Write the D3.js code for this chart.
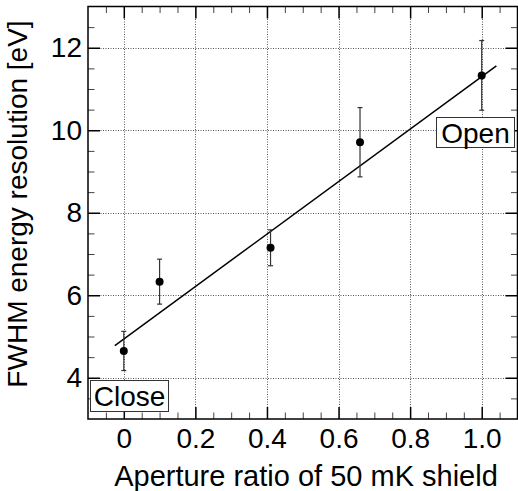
<!DOCTYPE html>
<html>
<head>
<meta charset="utf-8">
<script src="https://cdn.jsdelivr.net/npm/d3@7"></script>
<style>
html,body{margin:0;padding:0;background:#fff;}
svg{display:block;}
text{font-family:"Liberation Sans",Arial,Helvetica,sans-serif;fill:#000;}
</style>
</head>
<body>
<svg id="chart" width="518" height="491"></svg>
<script>
// ---- data ----
const apertureRatio = [0, 0.1, 0.41, 0.66, 1.0];
const fwhm = [4.65, 6.33, 7.15, 9.71, 11.33];
const fwhmErr = [0.475, 0.545, 0.435, 0.84, 0.845];
const fitX = [-0.025, 1.041];
const fitY = [4.78, 11.56];
const xTicks = [0, 0.2, 0.4, 0.6, 0.8, 1.0];
const xTickLabels = ["0", "0.2", "0.4", "0.6", "0.8", "1.0"];
const yTicks = [4, 6, 8, 10, 12];
const xTitle = "Aperture ratio of 50 mK shield";
const yTitle = "FWHM energy resolution [eV]";
const annotations = [
  {text: "Close", pos: "bottomleft"},
  {text: "Open", pos: "right"}
];

// ---- layout ----
const FS = 28;
const L = 88, R = 517.5, T = 6.5, B = 419;
const svg = d3.select("#chart");
const x = d3.scaleLinear().domain([-0.1, 1.1]).range([L, R]);
const y = d3.scaleLinear().domain([3, 13]).range([B, T]);

const xMinor = d3.range(-0.05, 1.1, 0.05).map(v => +v.toFixed(2)).filter(v => !xTicks.some(t => Math.abs(t - v) < 1e-6));
const yMinor = d3.range(3.5, 13, 0.5).filter(v => !yTicks.includes(v));

// grid
const grid = svg.append("g").attr("stroke", "#555").attr("stroke-width", 1).attr("stroke-dasharray", "1,1.5");
grid.selectAll("line.gx").data(xTicks).join("line")
  .attr("x1", d => Math.round(x(d)) + 0.5).attr("x2", d => Math.round(x(d)) + 0.5)
  .attr("y1", T).attr("y2", B);
grid.selectAll("line.gy").data(yTicks).join("line")
  .attr("y1", d => Math.round(y(d)) + 0.5).attr("y2", d => Math.round(y(d)) + 0.5)
  .attr("x1", L).attr("x2", R);

// axes with inward ticks on all sides
const majorLen = 12, minorLen = 6.5;
function addAxis(axisGen, transform) {
  const g = svg.append("g").attr("transform", transform).call(axisGen);
  g.select(".domain").remove();
  return g;
}
const gb = addAxis(d3.axisBottom(x).tickValues(xTicks).tickSize(-majorLen)
  .tickFormat((d, i) => xTickLabels[i]).tickPadding(9), `translate(0,${B})`);
gb.selectAll("line").attr("stroke", "#000").attr("stroke-width", 1.5);
gb.selectAll("text").attr("font-size", FS).attr("fill", "#000");

addAxis(d3.axisBottom(x).tickValues(xMinor).tickSize(-minorLen).tickFormat(""), `translate(0,${B})`)
  .selectAll("line").attr("stroke", "#444").attr("stroke-width", 1);
addAxis(d3.axisTop(x).tickValues(xTicks).tickSize(-majorLen).tickFormat(""), `translate(0,${T})`)
  .selectAll("line").attr("stroke", "#000").attr("stroke-width", 1.5);
addAxis(d3.axisTop(x).tickValues(xMinor).tickSize(-minorLen).tickFormat(""), `translate(0,${T})`)
  .selectAll("line").attr("stroke", "#444").attr("stroke-width", 1);

const gl = addAxis(d3.axisLeft(y).tickValues(yTicks).tickSize(-majorLen).tickPadding(6)
  .tickFormat(d3.format("d")), `translate(${L},0)`);
gl.selectAll("line").attr("stroke", "#000").attr("stroke-width", 1.5);
gl.selectAll("text").attr("font-size", FS).attr("fill", "#000");
addAxis(d3.axisLeft(y).tickValues(yMinor).tickSize(-minorLen).tickFormat(""), `translate(${L},0)`)
  .selectAll("line").attr("stroke", "#444").attr("stroke-width", 1);
addAxis(d3.axisRight(y).tickValues(yTicks).tickSize(-majorLen).tickFormat(""), `translate(${R},0)`)
  .selectAll("line").attr("stroke", "#000").attr("stroke-width", 1.5);
addAxis(d3.axisRight(y).tickValues(yMinor).tickSize(-minorLen).tickFormat(""), `translate(${R},0)`)
  .selectAll("line").attr("stroke", "#444").attr("stroke-width", 1);

// frame
svg.append("rect").attr("x", L).attr("y", T).attr("width", R - L).attr("height", B - T)
  .attr("fill", "none").attr("stroke", "#000").attr("stroke-width", 1.5);

// fit line
const line = d3.line().x(d => x(d[0])).y(d => y(d[1]));
svg.append("path").datum(fitX.map((v, i) => [v, fitY[i]]))
  .attr("d", line).attr("fill", "none").attr("stroke", "#000").attr("stroke-width", 1.5);

// error bars
const pts = apertureRatio.map((v, i) => ({x: v, y: fwhm[i], e: fwhmErr[i]}));
const eb = svg.append("g").attr("stroke", "#333").attr("stroke-width", 1.2);
eb.selectAll("line.v").data(pts).join("line")
  .attr("x1", d => x(d.x)).attr("x2", d => x(d.x))
  .attr("y1", d => y(d.y - d.e)).attr("y2", d => y(d.y + d.e));
eb.selectAll("line.t").data(pts).join("line")
  .attr("x1", d => x(d.x) - 2.5).attr("x2", d => x(d.x) + 2.5)
  .attr("y1", d => y(d.y + d.e)).attr("y2", d => y(d.y + d.e));
eb.selectAll("line.b").data(pts).join("line")
  .attr("x1", d => x(d.x) - 2.5).attr("x2", d => x(d.x) + 2.5)
  .attr("y1", d => y(d.y - d.e)).attr("y2", d => y(d.y - d.e));

svg.append("g").selectAll("circle").data(pts).join("circle")
  .attr("cx", d => x(d.x)).attr("cy", d => y(d.y)).attr("r", 4).attr("fill", "#000");

// annotation boxes
function box(text, bx, by, bw, bh) {
  const g = svg.append("g");
  g.append("rect").attr("x", bx + 0.5).attr("y", by + 0.5).attr("width", bw).attr("height", bh)
    .attr("fill", "#fff").attr("stroke", "#333").attr("stroke-width", 1);
  g.append("text").attr("x", bx + bw / 2 + 0.5).attr("y", by + bh / 2 + 1).attr("text-anchor", "middle")
    .attr("dominant-baseline", "central").attr("font-size", FS).text(text);
}
box(annotations[0].text, 90, 380, 78, 31);
box(annotations[1].text, 436, 117, 78, 30);

// axis titles
svg.append("text").attr("x", 306).attr("y", 486).attr("text-anchor", "middle").attr("font-size", 29).text(xTitle);
svg.append("text").attr("transform", "translate(27,204) rotate(-90)").attr("text-anchor", "middle").attr("font-size", FS).text(yTitle);
</script>
</body>
</html>
